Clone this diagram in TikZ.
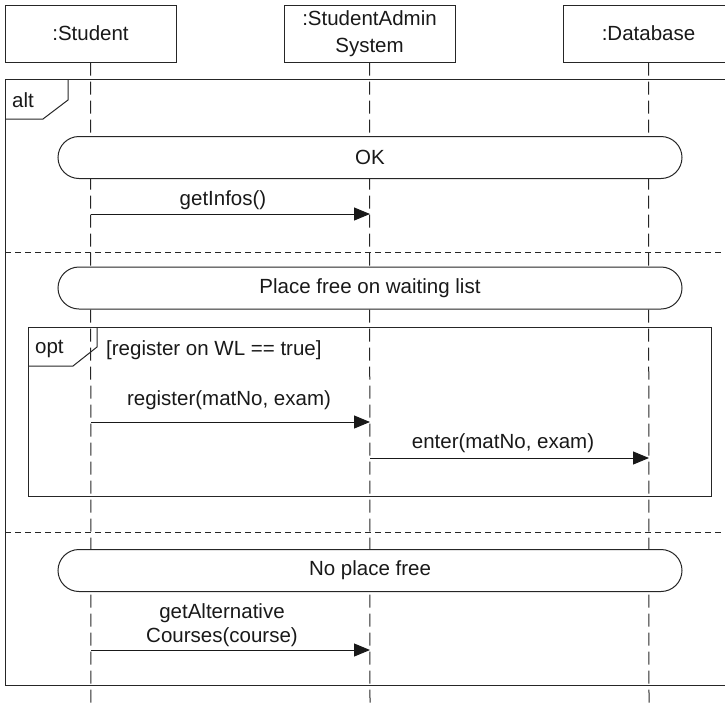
\documentclass[tikz,border=0pt]{standalone}
\usepackage{fontspec}
\setmainfont{Liberation Sans}
\usetikzlibrary{arrows.meta}
\begin{document}
\begin{tikzpicture}[x=1pt,y=-1pt,
  ln/.style={draw=black!85, line width=1pt},
  txt/.style={text=black!90, font=\fontsize{20.5}{27}\selectfont, inner sep=0pt},
  head/.style={ln, txt, minimum width=171pt, minimum height=57pt, align=center},
  cont/.style={ln, txt, rounded corners=21pt, minimum width=624pt, minimum height=42pt},
  lifeline/.style={draw=black!85, line width=1pt, dash pattern=on 13pt off 6pt},
  sep/.style={draw=black!85, line width=1pt, dash pattern=on 6pt off 4pt},
  msg/.style={draw=black!90, line width=1pt, -{Triangle[length=16pt,width=13pt]}},
  lbl/.style={txt, align=center}
]
\clip (0,0) rectangle (725,705);
\useasboundingbox (0,0) rectangle (725,705);

% lifeline heads
\node[head] (stu) at (90.5,33.5) {:Student};
\node[head] (sas) at (369.5,33.5) {:StudentAdmin\\System};
\node[head] (db) at (648.5,33.5) {:Database};

% lifelines
\coordinate (stuEnd) at (91,705);
\coordinate (sasEnd) at (370,705);
\coordinate (dbEnd) at (649,705);
\draw[lifeline] (stu.south) -- (stuEnd);
\draw[lifeline] (sas.south) -- (sasEnd);
\draw[lifeline] (db.south) -- (dbEnd);

% alt frame
\draw[ln] (5,79) rectangle (740,685);
\draw[ln] (5,119) -- (43,119) -- (68,100) -- (68,79);
\node[txt, anchor=west] (altlbl) at (12,100) {alt};

% operand 1
\node[cont, fill=white] (ok) at (370,157.5) {OK};
\coordinate (m1a) at (91,214);
\coordinate (m1b) at (370,214);
\draw[msg] (m1a) -- (m1b);
\node[lbl] (m1l) at (223,200) {getInfos()};

% separator 1
\coordinate (sep1a) at (5,252);
\coordinate (sep1b) at (725,252);
\draw[sep] (sep1a) -- (sep1b);

% operand 2
\node[cont, fill=white] (wl) at (370,288) {Place free on waiting list};

% opt frame
\draw[ln] (28,327) rectangle (711,496);
\draw[ln] (28,366) -- (73,366) -- (97,347) -- (97,327);
\node[txt, anchor=west] (optlbl) at (35,349) {opt};
\node[txt, anchor=west] (guard) at (106,350) {[register on WL == true]};

\coordinate (m2a) at (91,422);
\coordinate (m2b) at (370,422);
\draw[msg] (m2a) -- (m2b);
\node[lbl] (m2l) at (229,400) {register(matNo, exam)};

\coordinate (m3a) at (370,458);
\coordinate (m3b) at (649,458);
\draw[msg] (m3a) -- (m3b);
\node[lbl] (m3l) at (503,443) {enter(matNo, exam)};

% separator 2
\coordinate (sep2a) at (5,532);
\coordinate (sep2b) at (725,532);
\draw[sep] (sep2a) -- (sep2b);

% operand 3
\node[cont, fill=white] (np) at (370,570.5) {No place free};
\coordinate (m4a) at (91,650);
\coordinate (m4b) at (370,650);
\draw[msg] (m4a) -- (m4b);
\node[lbl, font=\fontsize{20.5}{24}\selectfont] (m4l) at (222,625) {getAlternative\\Courses(course)};
\end{tikzpicture}
\end{document}
